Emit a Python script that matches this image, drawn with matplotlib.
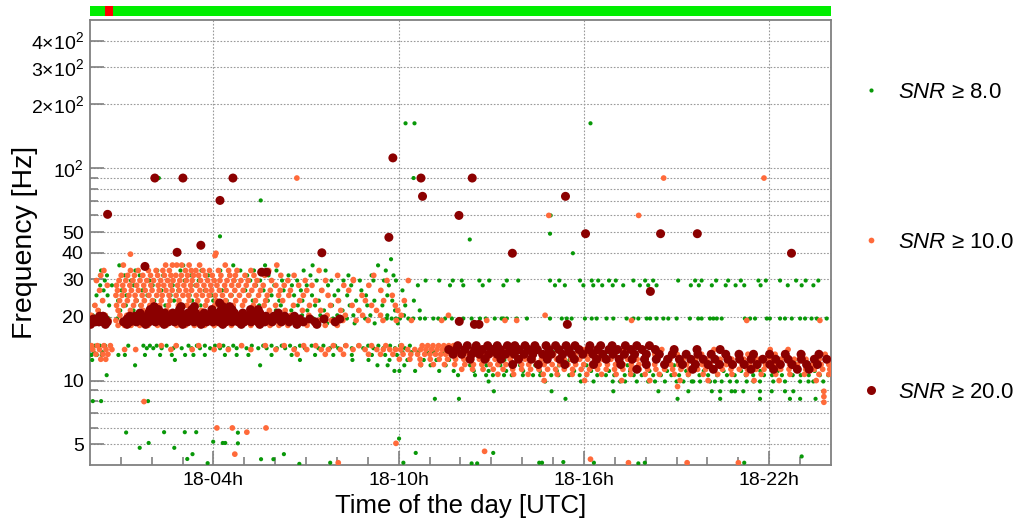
import matplotlib
matplotlib.use("Agg")
import matplotlib.pyplot as plt
from matplotlib.lines import Line2D

plt.rcParams["font.family"] = ["Liberation Sans", "DejaVu Sans"]
plt.rcParams["mathtext.fontset"] = "custom"
plt.rcParams["mathtext.rm"] = "Liberation Sans"
plt.rcParams["mathtext.it"] = "Liberation Sans:italic"

# triggers sit on discrete frequency tiles: (frequency [Hz], times [h of day 18])
green_rows = [
    (34.9, [0.95, 1.78, 3.02, 4.64, 5.67, 7.21, 9.33]),
    (33.0, [0.36, 1.47, 2.18, 2.93, 3.61, 4.22, 4.87, 5.31, 6.04, 6.92, 7.63, 9.58]),
    (31.3, [0.32, 0.55, 1.12, 1.61, 2.37, 3.28, 3.83, 4.51, 5.09, 5.78, 6.43, 7.14, 8.37, 9.12, 9.83]),
    (29.6, [0.19, 0.48, 0.96, 1.33, 1.92, 2.54, 3.07, 3.52, 4.03, 4.68, 5.19, 5.51, 6.22, 6.71, 7.34,
            7.82, 8.21, 8.74, 9.18, 9.52, 9.91, 10.33, 10.87, 11.31, 11.75, 12.04, 12.61, 12.93, 13.50,
            13.87, 14.90, 15.20, 15.87, 16.25, 16.46, 16.81, 17.03, 17.60, 17.98, 18.24, 19.05, 19.60,
            19.81, 20.28, 20.67, 21.08, 21.65, 21.89, 22.35, 22.87, 23.18, 23.59]),
    (28.1, [0.33, 0.71, 1.42, 2.03, 2.68, 3.41, 4.12, 4.79, 5.38, 5.97, 6.54, 7.02, 7.71, 8.46, 9.04,
            9.68, 10.62, 11.66, 12.09, 12.72, 13.39, 15.06, 15.38, 15.98, 16.30, 16.59, 16.93, 17.27,
            17.81, 18.08, 18.35, 19.46, 19.72, 20.14, 20.59, 20.91, 21.19, 21.72, 22.60, 23.05, 23.43]),
    (26.6, [0.44, 1.02, 1.69, 2.31, 2.86, 3.72, 4.28, 5.03, 5.62, 6.27, 6.83, 7.48, 8.04, 8.79, 9.41, 10.12]),
    (25.2, [0.21, 0.57, 1.18, 1.86, 2.61, 3.23, 3.94, 4.59, 5.16, 5.88, 6.61, 7.19, 7.92, 8.33, 8.94, 9.63]),
    (23.8, [0.39, 0.91, 1.52, 2.08, 2.72, 3.31, 3.99, 4.43, 5.27, 5.76, 6.13, 6.88, 7.41, 8.07, 8.62,
            9.21, 9.79, 10.49]),
    (22.6, [0.14, 0.62, 1.16, 1.63, 2.44, 3.02, 3.58, 4.19, 4.93, 5.48, 6.18, 6.73, 7.29, 7.84, 8.41,
            8.98, 9.47, 10.21]),
    (21.4, [0.29, 0.98, 1.41, 6.02, 6.52, 7.04, 7.58, 8.18, 8.69, 9.27, 9.88, 10.68]),
    (20.3, [0.09, 0.52, 6.31, 6.87, 7.46, 8.01, 8.53, 9.08, 9.63, 10.17, 11.61]),
    (19.6, [0.05, 0.61, 0.88, 5.82, 6.58, 7.23, 7.87, 8.32, 8.91, 9.61, 9.77, 9.91, 10.04, 10.31, 10.47,
            10.69, 10.85, 11.12, 11.28, 11.50, 11.72, 12.09, 12.36, 12.63, 12.82, 13.11, 13.33, 13.39,
            13.50, 13.82, 14.15, 14.90, 15.28, 15.44, 15.60, 16.03, 16.25, 16.41, 16.73, 16.95, 17.38,
            17.60, 17.76, 18.03, 18.14, 18.35, 18.57, 18.73, 19.00, 19.43, 19.70, 19.81, 20.08, 20.19,
            20.30, 20.46, 21.21, 21.38, 21.54, 21.92, 22.02, 22.35, 22.51, 22.73, 23.00, 23.16, 23.37,
            23.54, 23.86]),
    (18.6, [1.02, 5.93, 7.01, 7.68, 8.57, 9.22, 9.97]),
    (14.6, [0.16, 0.32, 0.49, 1.24, 1.73, 1.94, 2.16, 2.48, 2.81, 3.19, 3.46, 3.72, 4.05, 4.32, 4.64,
            4.91, 5.24, 5.61, 5.88, 6.21, 6.48, 6.80, 7.18, 7.56, 7.94, 8.26, 8.69, 9.01, 9.34, 9.72,
            10.04, 10.36]),
    (14.2, [1.84, 2.05, 2.32, 2.70, 2.97, 3.29, 3.56, 3.89, 4.21, 4.48, 4.75, 5.07, 5.45, 5.72, 6.05,
            6.32, 6.64, 6.96, 7.40, 7.77, 8.04, 8.48, 8.85, 9.18, 9.50, 9.88, 10.20]),
    (13.6, [0.12, 0.40, 10.12, 10.41, 10.63, 10.92, 11.14, 11.43, 12.02, 12.51, 13.04, 14.12, 15.01,
            15.93, 16.72]),
    (13.2, [0.05, 0.22, 0.38, 0.92, 1.13, 1.78, 2.27, 2.65, 3.08, 3.35, 3.72, 4.37, 4.75, 5.13, 5.88,
            6.53, 7.29, 7.88, 8.48, 9.13, 9.56, 9.94]),
    (12.5, [0.07, 2.75, 6.80, 8.50, 9.02, 9.70, 10.28, 10.81, 11.22, 11.63, 12.24, 13.42, 14.61, 15.53,
            17.12, 18.64, 19.93, 21.41, 22.83, 23.92]),
    (11.8, [1.46, 5.51, 9.31, 9.64, 10.18, 10.72, 11.03, 11.52, 12.31, 12.84, 13.29, 13.93, 14.42,
            15.19, 16.08, 17.41, 18.92, 20.33, 21.87, 23.31]),
    (11.1, [9.86, 10.02, 10.53, 11.31, 11.78, 12.43, 12.91, 13.48, 14.03, 14.57, 15.12, 15.68, 16.23,
            16.81, 17.49, 18.12, 18.69, 19.31, 19.88, 20.52, 21.09, 21.71, 22.28, 22.91, 23.47]),
    (10.6, [0.54, 11.92, 12.47, 12.83, 13.05, 13.41, 13.66, 14.02, 14.35, 14.58, 14.94, 15.17, 15.52,
            15.86, 16.08, 16.43, 16.71, 16.98, 17.32, 17.61, 17.87, 18.24, 18.49, 18.83, 19.08, 19.37,
            19.74, 20.02, 20.31, 20.63, 20.88, 21.24, 21.48, 21.83, 22.09, 22.41, 22.76, 23.02, 23.28,
            23.64, 23.91]),
    (9.9, [12.91, 14.74, 15.90, 16.31, 16.93, 17.17, 17.33, 17.71, 18.08, 18.30, 18.62, 19.00, 19.22,
           19.49, 19.54, 19.76, 20.08, 20.24, 20.46, 20.73, 20.95, 21.27, 21.49, 21.70, 22.13, 22.51,
           23.00, 23.27, 23.43, 23.75]),
    (8.9, [13.08, 14.95, 16.95, 18.41, 19.38, 20.14, 20.41, 20.78, 20.89, 21.16, 21.70, 22.08, 22.51,
           22.78, 23.75]),
    (8.2, [11.17, 11.95, 15.40, 19.03, 20.41, 21.70, 22.67, 23.00, 23.50]),
    (8.0, [0.09, 0.36, 1.88]),
]
green_t = [1.17, 1.61, 1.90, 2.40, 2.73, 3.07, 3.15, 3.32, 3.44, 3.81, 3.99, 4.30, 4.38, 4.79, 4.79,
           5.54, 5.94, 6.28, 6.78, 7.78, 10.01, 10.15, 10.55, 12.36, 12.54, 13.06, 14.55, 14.64, 15.33,
           16.32, 17.76, 17.97, 21.19, 23.05,
           2.23, 5.53, 4.21, 9.75, 10.22, 10.51, 10.48, 12.30, 14.90, 15.64, 16.21, 14.92]
green_f = [5.69, 4.82, 5.08, 5.71, 4.82, 5.71, 4.27, 4.50, 5.71, 4.08, 5.15, 5.08, 5.08, 5.68, 5.06,
           4.26, 4.26, 4.50, 4.05, 4.10, 5.33, 4.10, 4.56, 4.07, 4.07, 4.56, 4.10, 4.10, 4.13,
           4.10, 4.07, 4.10, 4.10, 4.39,
           90, 70.6, 47.8, 37.3, 163, 163, 90, 46.2, 49.2, 39.8, 163, 60]

orange_rows = [
    (35.0, [1.08, 2.45, 2.67, 2.81, 2.97, 3.21, 3.55, 4.38, 6.05]),
    (33.0, [0.45, 1.31, 1.56, 1.89, 2.14, 2.36, 2.57, 3.09, 3.28, 3.43, 3.66, 3.87, 4.16, 4.49, 4.76,
            5.21, 5.79, 7.42]),
    (31.3, [0.35, 1.01, 1.22, 1.44, 1.71, 1.96, 2.19, 2.41, 2.62, 2.78, 2.96, 3.16, 3.35, 3.52, 3.74,
            3.96, 4.24, 4.53, 4.71, 5.02, 5.31, 5.66, 6.18, 6.61, 8.02, 9.19]),
    (29.6, [0.21, 0.94, 1.16, 1.39, 1.62, 1.84, 2.06, 2.29, 2.51, 2.69, 2.91, 3.12, 3.31, 3.58, 3.81,
            4.02, 4.21, 4.44, 4.66, 4.89, 5.12, 5.41, 5.88, 6.41, 6.97, 7.63, 8.53, 9.62, 10.31]),
    (28.1, [0.56, 0.86, 1.06, 1.29, 1.51, 1.74, 1.97, 2.21, 2.39, 2.61, 2.84, 3.04, 3.26, 3.46, 3.69,
            3.91, 4.11, 4.36, 4.59, 4.81, 5.06, 5.34, 5.61, 6.02, 6.29, 6.76, 7.19, 8.22, 9.03]),
    (26.6, [0.31, 0.89, 1.11, 1.34, 1.57, 1.79, 2.01, 2.24, 2.46, 2.66, 2.89, 3.11, 3.29, 3.56, 3.76,
            3.94, 4.19, 4.41, 4.69, 4.96, 5.24, 5.52, 5.84, 6.16, 6.49, 7.02, 7.51, 8.38, 9.42]),
    (25.2, [0.84, 1.04, 1.26, 1.46, 1.69, 1.91, 2.16, 2.34, 2.56, 2.79, 3.01, 3.19, 3.44, 3.64, 3.86,
            4.06, 4.29, 4.56, 4.84, 5.14, 5.46, 5.74, 6.11, 6.44, 6.91, 7.71, 8.81, 9.79]),
    (23.8, [0.41, 0.96, 1.21, 1.49, 1.76, 2.02, 2.31, 2.59, 2.88, 3.21, 3.49, 3.79, 4.09, 4.39, 4.72,
            5.01, 5.36, 5.69, 6.24, 6.79, 7.31, 8.04, 8.92, 9.51, 10.18]),
    (22.6, [0.16, 0.86, 1.09, 1.41, 1.66, 1.94, 2.26, 2.54, 2.86, 3.14, 3.46, 3.74, 4.04, 4.36, 4.64,
            4.94, 5.29, 5.64, 6.01, 6.59, 7.11, 7.79, 8.49, 9.12, 9.89]),
    (21.4, [0.26, 0.91, 1.31, 1.72, 2.49, 3.61, 4.52, 5.18, 5.81, 6.32, 6.88, 7.47, 8.12, 8.71, 9.28, 9.97]),
    (20.3, [0.04, 0.49, 0.97, 1.19, 5.58, 6.03, 6.51, 7.09, 7.68, 8.27, 8.83, 9.41, 10.08, 11.61, 14.74]),
    (19.2, [0.62, 0.84, 1.04, 1.17, 5.49, 5.91, 6.22, 6.63, 7.01, 7.42, 7.81, 8.19, 8.62, 9.01, 9.49,
            9.92, 10.41, 11.39, 11.98, 12.85, 13.44, 13.82, 17.54, 21.27, 23.64]),
    (18.2, [0.91, 1.12, 1.33, 1.61, 1.88, 2.19, 2.47, 2.81, 3.09, 3.38, 3.71, 4.02, 4.31, 4.58, 4.92,
            5.21, 5.52, 5.83, 6.12, 6.41, 6.72, 7.03, 7.31, 7.62, 8.01]),
    (14.6, [0.05, 0.24, 0.45, 0.66, 2.31, 2.79, 3.52, 4.19, 4.91, 5.68, 6.29,
            6.92, 7.31, 7.88, 8.29, 8.71, 9.12, 9.58, 10.09, 10.76, 10.94, 11.11, 11.29, 11.46, 11.62,
            11.77, 12.21, 12.88, 13.61]),
    (14.0, [0.09, 0.31, 0.52, 0.71, 1.12, 1.48, 2.62, 3.31, 4.02, 4.48, 5.21, 6.02,
            6.61, 7.02, 7.49, 7.72, 8.11, 8.52, 8.91, 9.29, 9.50, 9.71, 9.90, 10.06, 10.29, 10.52,
            10.71, 10.88, 11.06, 11.24, 11.41, 11.56, 11.91, 12.12, 12.39, 12.71, 13.08, 13.49, 13.91,
            14.32, 15.21, 16.02, 17.31, 18.52, 20.21, 22.03, 22.61]),
    (13.3, [0.19, 0.42, 0.58, 6.71, 7.62, 8.21, 9.02, 9.41, 9.81, 10.14, 10.39, 10.61,
            10.84, 11.01, 11.19, 11.36, 11.52, 11.69, 11.86, 12.02, 12.26, 12.51, 12.74, 13.01, 13.29,
            13.56, 13.79, 14.11, 14.39, 14.68, 15.02, 15.33, 15.71, 16.09, 16.52, 17.01, 17.63, 18.29,
            19.02, 19.81, 20.62, 21.31, 22.19, 23.08, 23.81]),
    (12.6, [0.35, 0.51, 10.02, 10.36, 10.69, 11.02, 11.31, 11.58, 11.84, 12.11, 12.36,
            12.61, 12.87, 13.12, 13.34, 13.61, 13.86, 14.09, 14.36, 14.62, 14.84, 15.11, 15.36, 15.59,
            15.86, 16.12, 16.34, 16.61, 16.87, 17.09, 17.41, 17.72, 18.01, 18.38, 18.79, 19.21, 19.62,
            19.98, 20.41, 20.79, 21.18, 21.62, 22.01, 22.38, 22.81, 23.19, 23.62, 23.94]),
    (11.9, [10.71, 11.12, 11.48, 11.81, 12.14, 12.42, 12.69, 12.96, 13.21, 13.47, 13.72, 13.98, 14.21,
            14.46, 14.71, 14.97, 15.22, 15.48, 15.73, 15.99, 16.24, 16.49, 16.76, 17.02, 17.27, 17.53,
            17.78, 18.04, 18.29, 18.56, 18.81, 19.06, 19.32, 19.58, 19.83, 20.09, 20.34, 20.61, 20.86,
            21.12, 21.37, 21.63, 21.88, 22.14, 22.39, 22.66, 22.91, 23.17, 23.42, 23.68, 23.93]),
    (11.3, [12.04, 12.39, 12.73, 13.06, 13.38, 13.69, 13.98, 14.27, 14.54, 14.82, 15.08, 15.36, 15.63,
            15.91, 16.18, 16.44, 16.72, 16.99, 17.26, 17.52, 17.79, 18.06, 18.33, 18.61, 18.87, 19.14,
            19.41, 19.68, 19.94, 20.22, 20.48, 20.76, 21.03, 21.29, 21.57, 21.83, 22.11, 22.37, 22.64,
            22.92, 23.18, 23.46, 23.73, 23.96]),
    (10.7, [13.21, 13.72, 14.19, 14.68, 15.13, 15.62, 16.09, 16.57, 17.04, 17.51, 17.98, 18.44, 18.93,
            19.38, 19.86, 20.33, 20.79, 21.26, 21.74, 22.21, 22.67, 23.14, 23.61, 23.93]),
    (10.0, [14.71, 16.02, 17.22, 18.13, 19.11, 20.02, 21.51, 22.32, 23.52]),
]
orange_t = [1.75, 4.11, 4.61, 4.69, 5.08, 5.70, 8.04, 9.91, 12.78, 16.21, 17.44, 19.34, 21.00, 19.03,
            23.77, 23.77, 23.77, 6.70, 18.58, 21.83, 14.86, 17.77, 1.31, 4.05, 4.08, 8.53]
orange_f = [7.96, 5.98, 5.98, 4.50, 5.71, 5.98, 4.10, 5.06, 4.64, 4.26, 4.10, 4.10, 4.10, 9.37,
            8.90, 8.40, 7.90, 90, 90, 90, 60, 60, 39.4, 38.8, 39.8, 29.9]

red_rows = [
    (22.3, [2.08, 2.95, 3.38, 4.30, 4.52]),
    (21.6, [1.95, 2.22, 2.90, 3.30, 3.95, 4.25, 4.60, 5.20, 5.45]),
    (20.8, [1.62, 1.90, 2.15, 2.42, 2.68, 2.95, 3.18, 3.42, 3.70, 3.98, 4.15, 4.42, 4.68, 4.95, 5.25,
            5.50, 6.10]),
    (20.1, [0.31, 0.42, 1.29, 1.45, 1.66, 1.87, 2.06, 2.29, 2.47, 2.66, 2.86, 3.04, 3.22, 3.41, 3.60,
            3.81, 4.00, 4.18, 4.37, 4.54, 4.72, 4.91, 5.10, 5.29, 5.48, 5.70, 5.95, 6.31, 6.62]),
    (19.5, [0.11, 0.22, 0.36, 0.49, 1.20, 1.38, 1.57, 1.76, 1.95, 2.13, 2.33, 2.52, 2.70, 2.90, 3.09,
            3.28, 3.47, 3.65, 3.85, 4.05, 4.24, 4.44, 4.63, 4.82, 5.02, 5.21, 5.41, 5.61, 5.80, 6.05,
            6.28, 6.50, 6.79, 7.12, 7.58, 8.09]),
    (18.9, [0.04, 0.17, 0.29, 0.44, 0.56, 1.09, 1.30, 1.50, 1.72, 1.91, 2.12, 2.34, 2.54, 2.74, 2.96,
            3.16, 3.37, 3.56, 3.78, 3.98, 4.18, 4.40, 4.60, 4.80, 5.00, 5.22, 5.44, 5.66, 5.90, 6.20,
            6.45, 6.91, 7.29, 7.94]),
    (18.4, [0.02, 0.50, 1.20, 1.80, 2.40, 3.00, 3.60, 4.30, 4.90, 5.50, 6.70, 7.35]),
    (14.6, [11.91, 12.22, 12.51, 12.88, 13.19, 13.52, 13.76, 14.09, 14.41, 14.77, 15.08, 15.42, 15.71,
            16.19, 16.54, 16.91, 17.34, 17.71, 18.12]),
    (14.0, [11.62, 11.86, 12.14, 12.46, 12.71, 13.02, 13.29, 13.61, 13.89, 14.21, 14.49, 14.86, 15.19,
            15.51, 15.84, 16.16, 16.44, 16.81, 17.09, 17.52, 17.88, 18.31, 18.92, 19.66, 20.41]),
    (13.3, [11.76, 12.04, 12.36, 12.61, 12.91, 13.19, 13.46, 13.74, 14.06, 14.34, 14.66, 14.94, 15.31,
            15.59, 15.96, 16.29, 16.61, 16.94, 17.31, 17.64, 18.02, 18.44, 18.86, 19.31, 19.69, 20.12,
            20.59, 21.02, 21.49, 22.01, 22.52, 23.03, 23.61]),
    (12.6, [12.31, 12.79, 13.31, 13.88, 14.29, 14.81, 15.22, 15.69, 16.41, 16.72, 17.14, 17.56, 17.96,
            18.34, 18.71, 19.09, 19.46, 19.86, 20.24, 20.66, 21.04, 21.41, 21.79, 22.21, 22.61, 23.04,
            23.46, 23.86]),
    (11.9, [13.69, 14.52, 15.38, 16.31, 17.19, 18.02, 18.61, 19.19, 19.61, 20.02, 20.39, 20.81, 21.19,
            21.61, 22.02, 22.36, 22.74, 23.21, 23.56]),
    (11.3, [17.71, 19.52, 20.19, 21.41, 22.14, 22.91, 23.29]),
]
red_t = [0.57, 2.10, 3.01, 4.63, 4.21, 2.82, 3.59, 1.78, 7.51, 9.68, 9.81, 10.72, 10.77, 11.95, 12.38,
         13.68, 15.40, 16.05, 18.48, 19.67, 22.72, 5.56, 5.72, 18.15, 11.96, 12.45, 12.60, 15.46, 4.20]
red_f = [60.7, 90, 90, 90, 70.6, 40.2, 43.4, 34.5, 40.0, 47.3, 112, 90, 73.8, 60, 90,
         39.8, 73.8, 49.2, 49.2, 49.2, 39.8, 32.4, 32.4, 26.3, 19.0, 18.4, 18.4, 18.4, 23.2]

# segments of the state bar (start h, duration h)
seg_ok = [(0.0, 24.0)]
seg_bad = [(0.49, 0.26)]

labels = ["8.0", "10.0", "20.0"]
colors = ["#089808", "#ff6a3a", "#8b0000"]
sizes = [9, 17, 42]
ytick_major = [5, 10, 20, 30, 40, 50, 100, 200, 300, 400]
ytick_labels = ["5", "10", "20", "30", "40", "50", r"$10^{2}$", r"$2{\times}10^{2}$",
                r"$3{\times}10^{2}$", r"$4{\times}10^{2}$"]
ytick_minor = [6, 7, 8, 9, 60, 70, 80, 90]
xtick_major = [4, 10, 16, 22]


def unpack(rows, t_extra, f_extra):
    t, f = [], []
    for freq, times in rows:
        t += times
        f += [freq] * len(times)
    return t + t_extra, f + f_extra


series = [unpack(green_rows, green_t, green_f),
          unpack(orange_rows, orange_t, orange_f),
          unpack(red_rows, red_t, red_f)]

fig = plt.figure(figsize=(10.2, 5.24), dpi=100)
ax = fig.add_axes([90 / 1020, 59 / 524, 741 / 1020, 445 / 524])
bar = fig.add_axes([90 / 1020, 508 / 524, 741 / 1020, 10.5 / 524])

bar.broken_barh(seg_ok, (0, 1), facecolor="#00ee00")
bar.broken_barh(seg_bad, (0, 1), facecolor="#ff0000")
bar.set_xlim(0, 24)
bar.set_ylim(0, 1)
bar.axis("off")

for (t, f), c, s in zip(series, colors, sizes):
    ax.scatter(t, f, s=s, c=c, edgecolors="none", zorder=3)

ax.set_yscale("log")
ax.set_xlim(0, 24)
ax.set_ylim(4, 500)
ax.set_yticks(ytick_major, ytick_labels)
ax.set_yticks(ytick_minor, minor=True)
ax.yaxis.set_minor_formatter(plt.NullFormatter())
ax.set_xticks(xtick_major, ["18-%02dh" % h for h in xtick_major])
ax.set_xticks(range(1, 24), minor=True)

ax.grid(axis="y", which="both", ls=(0, (1.5, 1.5)), color="#9a9a9a", lw=0.8)
ax.grid(axis="x", which="major", ls=(0, (1.5, 1.5)), color="#9a9a9a", lw=0.8)
ax.tick_params(which="both", direction="in", color="#808080", labelsize=14, width=1.2)
ax.tick_params(axis="y", which="major", length=10, pad=4.5)
ax.tick_params(axis="y", which="minor", length=6)
ax.tick_params(axis="x", which="major", length=10, pad=5)
ax.tick_params(axis="x", which="minor", length=6)
for sp in ax.spines.values():
    sp.set_color("#808080")
    sp.set_linewidth(1.3)

ax.set_xlabel("Time of the day [UTC]", fontsize=18.5, labelpad=4)
ax.set_ylabel("Frequency [Hz]", fontsize=20.5)
ax.yaxis.set_label_coords(-0.07, 0.5)

handles = [Line2D([], [], ls="", marker="o", color=c, markeredgecolor="none",
                  markersize=s ** 0.5) for c, s in zip(colors, sizes)]
ax.legend(handles, [r"$SNR$ ≥ " + l for l in labels], loc="center left",
          bbox_to_anchor=(1.027, 0.5), frameon=False, fontsize=16,
          labelspacing=5.8, handlelength=1.0, handletextpad=0.7, borderaxespad=0)

fig.savefig("out.png", dpi=100)
